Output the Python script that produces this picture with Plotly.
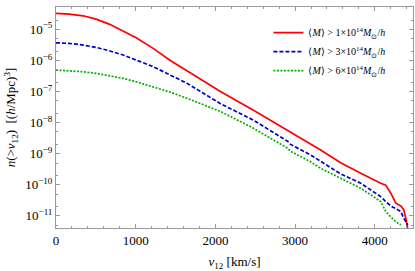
import plotly.graph_objects as go

# v12 [km/s] and log10 n(>v12)
red_v = [0, 164, 340, 503, 667, 843, 1006, 1220, 1434, 1648, 2063, 2478, 2906, 3195, 3321, 3572, 3698, 3824, 4075, 4138, 4201, 4264, 4327, 4365, 4390, 4415]
red_logn = [-4.486, -4.508, -4.563, -4.669, -4.830, -5.055, -5.27, -5.61, -6.00, -6.34, -7.00, -7.60, -8.24, -8.67, -8.88, -9.29, -9.47, -9.63, -9.95, -10.01, -10.27, -10.59, -10.68, -10.81, -11.07, -11.45]

blue_v = [0, 164, 340, 503, 667, 843, 1006, 1220, 1434, 1648, 2063, 2478, 2906, 2943, 3195, 3572, 3824, 4075, 4138, 4201, 4327, 4365, 4415]
blue_logn = [-5.431, -5.450, -5.505, -5.579, -5.688, -5.826, -5.987, -6.20, -6.47, -6.74, -7.39, -7.92, -8.60, -8.70, -9.04, -9.65, -9.95, -10.38, -10.54, -10.68, -10.86, -11.08, -11.29]

green_v = [0, 164, 340, 503, 667, 843, 1006, 1220, 1434, 1648, 2063, 2478, 2906, 2943, 3195, 3321, 3572, 3824, 4075, 4138, 4201, 4264, 4327]
green_logn = [-6.309, -6.331, -6.363, -6.415, -6.492, -6.576, -6.685, -6.85, -7.02, -7.22, -7.64, -8.18, -8.82, -8.92, -9.26, -9.47, -9.79, -10.11, -10.54, -10.86, -11.03, -11.19, -11.29]

series_names = [
    "⟨<i>M</i>⟩ > 1×10<sup>14</sup><i>M</i><sub>⊙</sub>/<i>h</i>",
    "⟨<i>M</i>⟩ > 3×10<sup>14</sup><i>M</i><sub>⊙</sub>/<i>h</i>",
    "⟨<i>M</i>⟩ > 6×10<sup>14</sup><i>M</i><sub>⊙</sub>/<i>h</i>",
]

x_ticks = [0, 1000, 2000, 3000, 4000]
y_tick_exps = [-5, -6, -7, -8, -9, -10, -11]

serif = "Liberation Serif, Times New Roman, serif"

fig = go.Figure()
styles = [("#ff0000", "solid"), ("#0000cc", "4px,2px"), ("#00b000", "2px,1.5px")]
data = [(red_v, red_logn), (blue_v, blue_logn), (green_v, green_logn)]
for (v, ln), (c, d), name in zip(data, styles, series_names):
    fig.add_trace(go.Scatter(
        x=v, y=[10 ** e for e in ln], mode="lines", name=name,
        line=dict(color=c, dash=d, width=1.7)))

axis_common = dict(
    showline=True, linecolor="#999999", linewidth=1, mirror="allticks",
    ticks="inside", tickcolor="#999999", ticklen=4, showgrid=False, zeroline=False,
    automargin=False,
    tickfont=dict(family=serif, size=13, color="black"),
)

fig.update_xaxes(
    range=[0, 4480], tickvals=x_ticks, ticktext=[str(t) for t in x_ticks],
    minor=dict(ticks="inside", dtick=200, tick0=0, ticklen=2, tickcolor="#999999", showgrid=False),
    title=dict(text="<i>v</i><sub>12</sub> [km/s]", font=dict(family=serif, size=13, color="black"), standoff=10),
    **axis_common)
fig.update_yaxes(
    type="log", range=[-11.39, -4.28],
    tickvals=[10 ** e for e in y_tick_exps],
    ticktext=["10<sup>−%d</sup>" % (-e) for e in y_tick_exps],
    minor=dict(ticks="inside", ticklen=2, tickcolor="#999999", showgrid=False),
    title=dict(text="<i>n</i>(><i>v</i><sub>12</sub>)  [(<i>h</i>/Mpc)<sup>3</sup>]",
               font=dict(family=serif, size=13, color="black"), standoff=6),
    **axis_common)

fig.update_layout(
    width=415, height=271,
    margin=dict(l=56, r=2, t=7, b=43),
    paper_bgcolor="white", plot_bgcolor="white",
    legend=dict(x=0.595, y=0.95, xanchor="left", yanchor="top",
                bgcolor="rgba(0,0,0,0)", font=dict(family=serif, size=10, color="black"),
                itemwidth=30, tracegroupgap=0),
    showlegend=True,
)

fig.write_html("out.html", config={"displayModeBar": False},
               post_script="document.body.style.margin='0';document.body.style.padding='0';")
